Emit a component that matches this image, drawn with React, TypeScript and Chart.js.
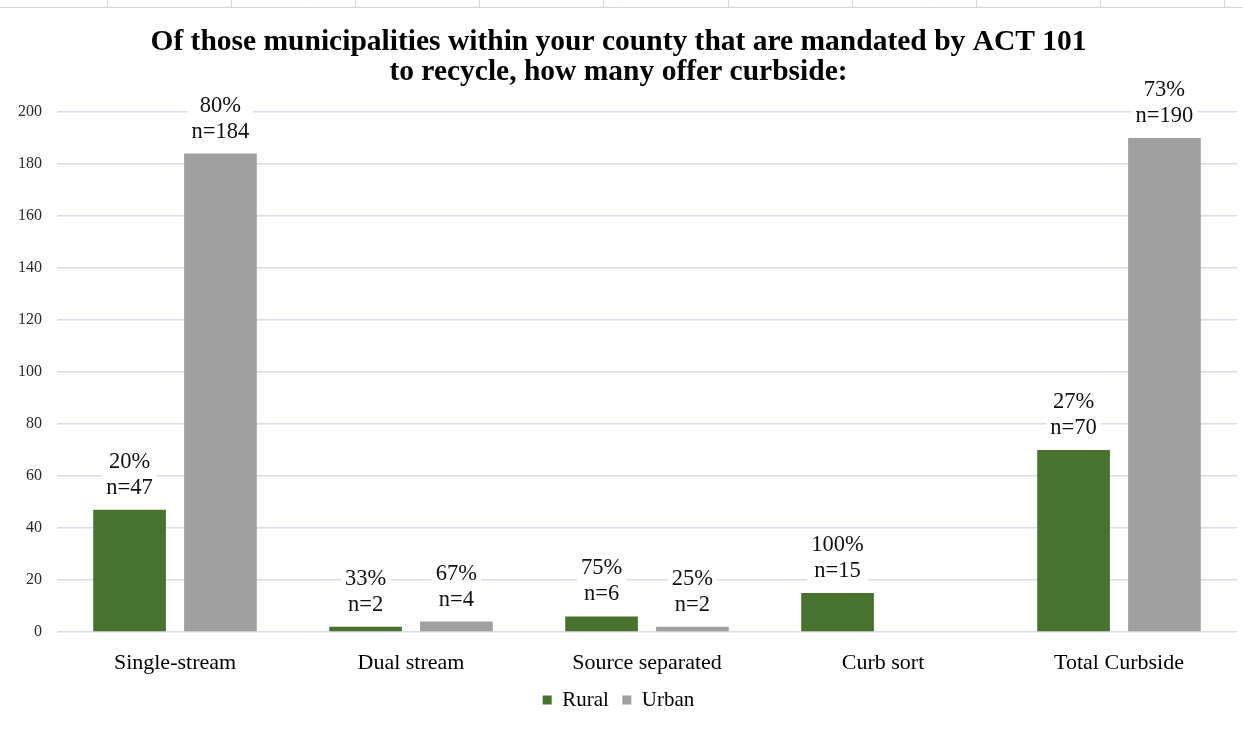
import React, { useEffect, useRef } from "react";
import { Chart, registerables } from "chart.js";

Chart.register(...registerables);

const categories = ["Single-stream", "Dual stream", "Source separated", "Curb sort", "Total Curbside"];
const ruralValues = [47, 2, 6, 15, 70];
const urbanValues: (number | null)[] = [184, 4, 2, null, 190];
const ruralPercents = ["20%", "33%", "75%", "100%", "27%"];
const urbanPercents = ["80%", "67%", "25%", "", "73%"];
const yTicks = [0, 20, 40, 60, 80, 100, 120, 140, 160, 180, 200];

const SERIF = '"Liberation Serif", "Times New Roman", serif';
const GREEN = "#48732f";
const GRAY = "#a0a0a0";

const labelPlugin = {
  id: "barLabels",
  afterDatasetsDraw(chart: any) {
    const ctx = chart.ctx;
    const pcts = [ruralPercents, urbanPercents];
    ctx.save();
    ctx.font = `22.5px ${SERIF}`;
    ctx.textAlign = "center";
    ctx.textBaseline = "middle";
    chart.data.datasets.forEach((ds: any, di: number) => {
      const meta = chart.getDatasetMeta(di);
      meta.data.forEach((bar: any, i: number) => {
        const v = ds.data[i];
        if (v === null || v === undefined) return;
        const lines = [pcts[di][i], "n=" + v];
        const lh = 26;
        const w = Math.max(...lines.map((l: string) => ctx.measureText(l).width)) + 8;
        const bottom = bar.y - 9;
        const top = bottom - lh * lines.length;
        ctx.fillStyle = "#ffffff";
        ctx.fillRect(bar.x - w / 2, top, w, bottom - top);
        ctx.fillStyle = "#111111";
        lines.forEach((l: string, k: number) => {
          ctx.fillText(l, bar.x, top + lh * k + lh / 2);
        });
      });
    });
    ctx.restore();
  },
};

const sheetPlugin = {
  id: "sheetEdge",
  beforeDraw(chart: any) {
    const ctx = chart.ctx;
    ctx.save();
    ctx.strokeStyle = "#d6d6d6";
    ctx.lineWidth = 1;
    ctx.beginPath();
    ctx.moveTo(0, 7.5);
    ctx.lineTo(chart.width, 7.5);
    for (let x = 107; x < chart.width; x += 124.1) {
      const px = Math.round(x) + 0.5;
      ctx.moveTo(px, 0);
      ctx.lineTo(px, 7.5);
    }
    ctx.stroke();
    ctx.restore();
  },
};

export default function App() {
  const ref = useRef<HTMLCanvasElement | null>(null);
  useEffect(() => {
    document.body.style.margin = "0";
    if (!ref.current) return;
    const chart = new Chart(ref.current, {
      type: "bar",
      data: {
        labels: categories,
        datasets: [
          {
            label: "Rural",
            data: ruralValues,
            backgroundColor: GREEN,
            categoryPercentage: 0.77,
            barPercentage: 0.8,
          },
          {
            label: "Urban",
            data: urbanValues,
            backgroundColor: GRAY,
            categoryPercentage: 0.77,
            barPercentage: 0.8,
          },
        ],
      },
      options: {
        animation: false,
        responsive: false,
        maintainAspectRatio: false,
        layout: { padding: { left: 0, right: 6, top: 0, bottom: 9.5 } },
        plugins: {
          title: {
            display: true,
            text: [
              "Of those municipalities within your county that are mandated by ACT 101",
              "to recycle, how many offer curbside:",
            ],
            color: "#000000",
            font: { family: SERIF, size: 29.5, weight: "bold", lineHeight: 1.0 },
            padding: { top: 28, bottom: 25 },
          },
          legend: {
            position: "bottom",
            labels: {
              color: "#000000",
              font: { family: SERIF, size: 21 },
              boxWidth: 9,
              boxHeight: 9,
              padding: 13.5,
            },
          },
          tooltip: { enabled: false },
        },
        scales: {
          x: {
            grid: { display: false },
            border: { display: false },
            ticks: {
              color: "#000000",
              font: { family: SERIF, size: 22 },
              padding: 10,
            },
            afterFit: (scale: any) => {
              scale.height = 44;
            },
          },
          y: {
            min: 0,
            max: 200,
            afterBuildTicks: (scale: any) => {
              scale.ticks = yTicks.map((v) => ({ value: v }));
            },
            afterFit: (scale: any) => {
              scale.width = 57;
            },
            grid: { color: "#d9dde8", lineWidth: 1.5, drawTicks: false },
            border: { display: false },
            ticks: {
              color: "#2a2a2a",
              font: { family: SERIF, size: 16 },
              padding: 15,
            },
          },
        },
      },
      plugins: [sheetPlugin, labelPlugin],
    });
    return () => chart.destroy();
  }, []);
  return (
    <div style={{ position: "absolute", left: 0, top: 0, width: 1243, height: 730, background: "#ffffff" }}>
      <canvas ref={ref} width={1243} height={730} style={{ width: 1243, height: 730 }} />
    </div>
  );
}
